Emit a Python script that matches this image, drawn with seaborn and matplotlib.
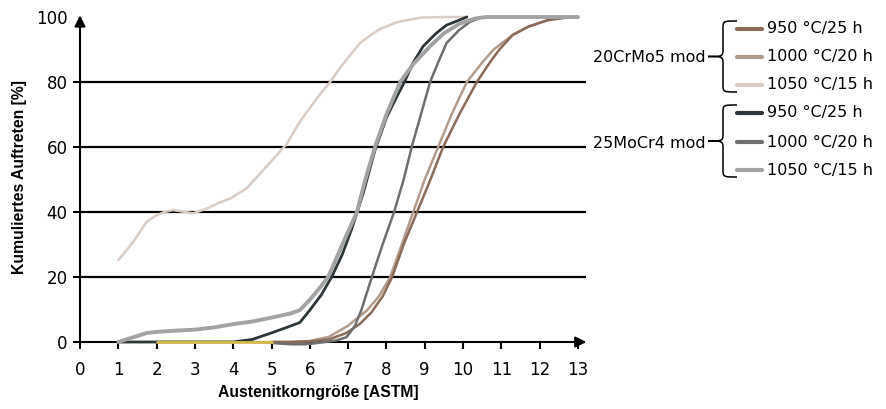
import matplotlib
matplotlib.use("Agg")
import matplotlib.pyplot as plt
from matplotlib.lines import Line2D
from matplotlib.path import Path
from matplotlib.patches import PathPatch
import numpy as np
import pandas as pd
import seaborn as sns

# --- data ---
crmo_1050_x = [1.0, 1.2, 1.4, 1.6, 1.74, 2.0, 2.2, 2.43, 2.7, 2.95, 3.3, 3.6, 3.95, 4.35, 4.6,
               4.87, 5.1, 5.4, 5.74, 6.0, 6.25, 6.53, 6.8, 7.0, 7.31, 7.6, 7.83, 8.3, 8.9,
               9.5, 10.1]
crmo_1050_y = [25.2, 28, 31, 34.5, 37, 39, 40, 40.6, 40.1, 39.6, 41, 42.7, 44.3, 47.3, 50.5,
               54, 57, 61, 67.8, 72, 76, 80, 84.5, 87.5, 92, 94.5, 96.3, 98.5, 99.8,
               100, 100]

crmo_1000_x = [5.0, 5.5, 6.0, 6.5, 7.0, 7.13, 7.5, 7.8, 8.1, 8.4, 8.7, 9.0, 9.35, 9.7, 10.1,
               10.5, 10.8, 11.3, 11.7, 12.2, 12.6, 13.0]
crmo_1000_y = [0, 0, 0.3, 1.6, 5, 6.3, 9.8, 14, 20, 30, 40, 50, 60, 70, 80,
               86, 90, 94.5, 97, 99, 99.7, 100]

crmo_950_x = [5.0, 5.5, 6.0, 6.5, 6.96, 7.3, 7.6, 7.9, 8.15, 8.45, 8.8, 9.15, 9.48, 9.9, 10.36,
              10.7, 10.95, 11.3, 11.7, 12.2, 12.6, 13.0]
crmo_950_y = [0, 0, 0.2, 0.8, 2.8, 5.5, 9, 14, 20, 30, 40, 50, 60, 70, 80,
              86, 90, 94.5, 97, 99, 99.7, 100]

mocr_950_x = [1.0, 2.0, 3.0, 4.0, 4.5, 5.0, 5.4, 5.74, 6.0, 6.3, 6.57, 6.85, 7.1, 7.4, 7.7,
              8.0, 8.25, 8.47, 8.7, 8.96, 9.3, 9.57, 9.85, 10.1]
mocr_950_y = [0, 0, 0, 0, 0.8, 2.8, 4.5, 6, 9.8, 14.5, 20, 27, 35, 46, 59,
              69, 75, 80, 86, 91, 95, 97.5, 98.8, 100]

mocr_1000_x = [4.5, 5.0, 5.5, 5.9, 6.2, 6.4, 6.7, 6.96, 7.18, 7.35, 7.62, 7.9, 8.2, 8.45, 8.66,
               8.9, 9.14, 9.35, 9.57, 9.9, 10.18, 10.5]
mocr_1000_y = [0, -0.3, -0.7, -0.7, -0.3, 0, 0.5, 1.5, 5, 10, 20, 30, 40, 50, 60,
               70, 80, 86, 92, 96, 98.5, 100]

mocr_1050_x = [1.0, 1.4, 1.75, 2.0, 2.5, 3.0, 3.5, 4.0, 4.5, 5.0, 5.5, 5.74, 6.0, 6.25, 6.48,
               6.85, 7.23, 7.45, 7.7, 8.0, 8.36, 8.7, 9.14, 9.5, 9.92, 10.3, 10.6, 13.0]
mocr_1050_y = [0, 1.5, 2.8, 3.1, 3.5, 3.8, 4.5, 5.5, 6.3, 7.5, 8.8, 9.8, 13, 16.5, 20,
               30, 40, 50, 60, 70, 80, 85.5, 91, 95, 98, 99.5, 100, 100]

# stray segments visible in the original chart
yellow_x = [2.0, 5.0]
yellow_y = [0, 0]
blue_x = [12.2, 12.45]
blue_y = [100, 100]

treatments = ["950 °C/25 h", "1000 °C/20 h", "1050 °C/15 h"]
groups = ["20CrMo5 mod", "25MoCr4 mod"]
x_ticks = list(range(0, 14))
y_ticks = [0, 20, 40, 60, 80, 100]

c_crmo = ["#8b6b57", "#b39b8c", "#d9cdc6"]
c_mocr = ["#2c3639", "#6e6e70", "#a3a3a3"]

sns.set_style("white")
plt.rcParams['font.family'] = ['DejaVu Sans']
plt.rcParams['text.color'] = 'black'
plt.rcParams['xtick.color'] = 'black'
plt.rcParams['ytick.color'] = 'black'
label_font = ['Liberation Sans', 'DejaVu Sans']

W, H = 887, 409
fig = plt.figure(figsize=(W / 100, H / 100), dpi=100)
ax = fig.add_axes([80 / W, 67 / H, (585.6 - 80) / W, 328.25 / H])

series = [
    (crmo_1050_x, crmo_1050_y, c_crmo[2], 1.8),
    (crmo_1000_x, crmo_1000_y, c_crmo[1], 1.8),
    (crmo_950_x, crmo_950_y, c_crmo[0], 1.8),
    (blue_x, blue_y, "#2a6ebb", 2.0),
    (mocr_1000_x, mocr_1000_y, c_mocr[1], 1.8),
    (mocr_950_x, mocr_950_y, c_mocr[0], 2.0),
    (mocr_1050_x, mocr_1050_y, c_mocr[2], 2.8),
    (yellow_x, yellow_y, "#d9bf4f", 2.0),
]
for xs, ys, col, lw in series:
    df = pd.DataFrame({"x": xs, "y": ys})
    sns.lineplot(data=df, x="x", y="y", ax=ax, color=col, linewidth=lw,
                 sort=False, estimator=None, clip_on=False, zorder=3)

for v in [20, 40, 60, 80]:
    ax.axhline(v, color="black", lw=1.6, zorder=1)

ax.set_xlim(0, 13.2)
ax.set_ylim(0, 101)
ax.set_xticks(x_ticks)
ax.set_yticks(y_ticks)
for s in ax.spines.values():
    s.set_visible(False)
ax.tick_params(axis="x", direction="out", length=5, width=1.5, pad=9, labelsize=12,
               bottom=True)
ax.tick_params(axis="y", direction="out", length=5, width=1.5, pad=4, labelsize=12,
               left=True)
ax.yaxis.get_major_ticks()[-1].tick1line.set_visible(False)
ax.set_xlabel("")
ax.set_ylabel("")

# axis arrows
ax.annotate("", xy=(13.22, 0), xytext=(0, 0), xycoords="data",
            arrowprops=dict(arrowstyle="-|>", color="black", lw=1.5, mutation_scale=16,
                            shrinkA=0, shrinkB=0), annotation_clip=False, zorder=2)
ax.annotate("", xy=(0, 100.5), xytext=(0, 0), xycoords="data",
            arrowprops=dict(arrowstyle="-|>", color="black", lw=1.5, mutation_scale=16,
                            shrinkA=0, shrinkB=0), annotation_clip=False, zorder=2)

fig.text(318 / W, 1 - 393 / H, "Austenitkorngröße [ASTM]", ha="center", va="center",
         fontsize=11.3, fontweight="bold", family=label_font)
fig.text(20 / W, 1 - 177 / H, "Kumuliertes Auftreten [%]", ha="center", va="center",
         rotation=90, fontsize=11.3, fontweight="bold", family=label_font)


def P(x, y):
    return (x / W, 1 - y / H)


def brace(yt, yb, xr=737, xm=723, xt=708, r=8):
    ym = (yt + yb) / 2
    pts = [P(xr, yt), P(xm, yt), P(xm, yt), P(xm, yt + r),
           P(xm, ym - r), P(xm, ym), P(xm, ym), P(xt, ym),
           P(xm, ym), P(xm, ym), P(xm, ym + r),
           P(xm, yb - r), P(xm, yb), P(xm, yb), P(xr, yb)]
    codes = [Path.MOVETO, Path.CURVE4, Path.CURVE4, Path.CURVE4,
             Path.LINETO, Path.CURVE4, Path.CURVE4, Path.CURVE4,
             Path.CURVE4, Path.CURVE4, Path.CURVE4,
             Path.LINETO, Path.CURVE4, Path.CURVE4, Path.CURVE4]
    fig.add_artist(PathPatch(Path(pts, codes), transform=fig.transFigure,
                             fill=False, lw=1.1, edgecolor="black"))


legend_y = [[29, 57, 85], [113, 142, 170]]
group_cols = [c_crmo, c_mocr]
for gi, g in enumerate(groups):
    ys = legend_y[gi]
    brace(ys[0] - 8, ys[2] + 7)
    fig.text(593 / W, 1 - (ys[1] + 1) / H, g, ha="left", va="center", fontsize=11.5)
    for ti, t in enumerate(treatments):
        y = ys[ti]
        fig.add_artist(Line2D([737 / W, 762 / W], [1 - y / H, 1 - y / H],
                              color=group_cols[gi][ti], lw=3, transform=fig.transFigure))
        fig.text(767 / W, 1 - y / H, t, ha="left", va="center", fontsize=11.5)

fig.savefig("out.png", dpi=100)
